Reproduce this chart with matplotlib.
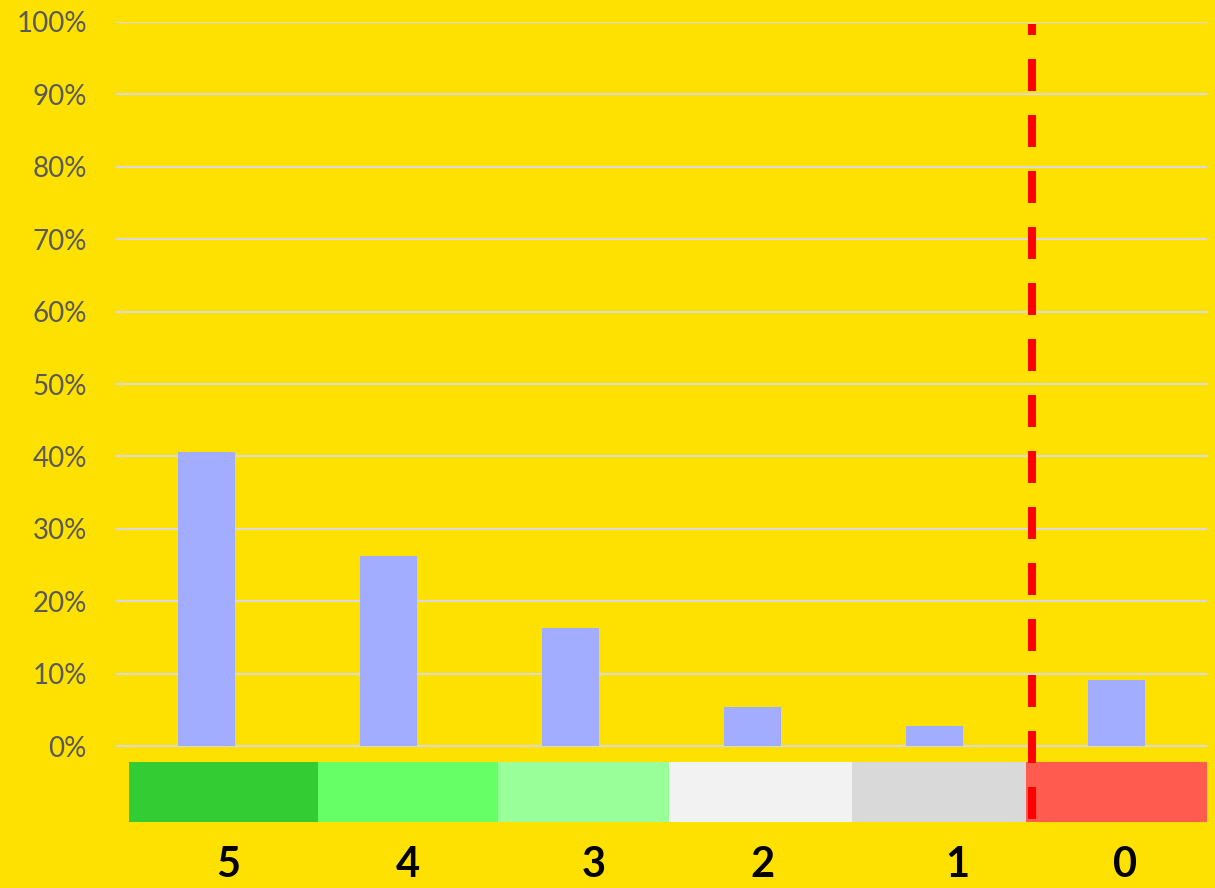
import matplotlib.pyplot as plt
from matplotlib.ticker import PercentFormatter

# categories and shares
categories = ["5", "4", "3", "2", "1", "0"]
shares = [0.406, 0.262, 0.163, 0.054, 0.028, 0.091]

# coloured score strip under the axis
strip_edges = [-0.43, 0.61, 1.60, 2.54, 3.545, 4.505, 5.5]
strip_colors = ["#33CC33", "#66FF66", "#99FF99", "#F2F2F2", "#D9D9D9", "#FF5B4F"]
label_pos = [0.115, 1.104, 2.126, 3.055, 4.126, 5.05]
cutoff = 4.54

bg = "#FFE100"
plt.rcParams['font.family'] = ['Lato', 'DejaVu Sans']

fig = plt.figure(figsize=(12.15, 8.88), dpi=100, facecolor=bg)
ax = fig.add_axes([116 / 1215, 0, (1207 - 116) / 1215, (888 - 22) / 888])
ax.set_facecolor(bg)

x = list(range(len(categories)))
ax.bar(x, shares, width=0.313, color="#A2ADFF", zorder=2)

# strip + labels
for i in range(len(strip_colors)):
    left, right = strip_edges[i], strip_edges[i + 1]
    ax.fill_between([left, right], -0.105, -0.022, color=strip_colors[i], lw=0, zorder=2)
    ax.text(label_pos[i], -0.165, categories[i], ha="center", va="center",
            fontsize=30, fontweight="bold", color="black")

# dashed cut-off line, drawn bottom-up so the dash pattern matches
ax.plot([cutoff, cutoff], [-0.101, 0.997], color="#FF0000", lw=5.76,
        dashes=(4, 3), zorder=3, solid_capstyle="butt", dash_capstyle="butt")

ax.set_xlim(-0.5, 5.5)
ax.set_ylim(-(888 - 746) / 724, 1.0)
ax.set_yticks([i / 10 for i in range(11)])
ax.yaxis.set_major_formatter(PercentFormatter(1.0, decimals=0))
ax.set_xticks([])
ax.grid(axis="y", color="#D9D9D9", lw=1.5, zorder=1)
ax.tick_params(axis="y", length=0, pad=21, labelsize=20, labelcolor="#595959")
for s in ax.spines.values():
    s.set_visible(False)

fig.savefig("out.png", dpi=100, facecolor=bg)
